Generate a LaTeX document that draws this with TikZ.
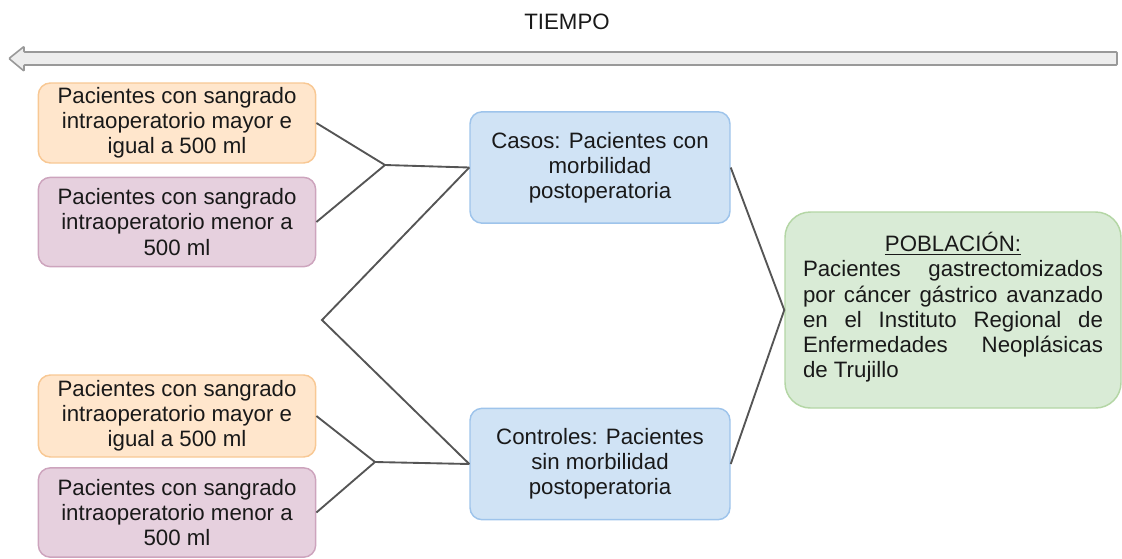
\documentclass[tikz,border=0pt]{standalone}
\usepackage{fontspec}
\setmainfont{Liberation Sans}
\usepackage{tikz}
\usetikzlibrary{positioning, calc}

\definecolor{naranjaF}{HTML}{FFE6CC}
\definecolor{naranjaB}{HTML}{F8C894}
\definecolor{rosaF}{HTML}{E6D0DE}
\definecolor{rosaB}{HTML}{CDA4BD}
\definecolor{azulF}{HTML}{D0E3F5}
\definecolor{azulB}{HTML}{9EC4EB}
\definecolor{verdeF}{HTML}{D9EBD6}
\definecolor{verdeB}{HTML}{B4D6A5}
\definecolor{linea}{HTML}{555555}

\begin{document}
\begin{tikzpicture}[x=0.75pt, y=-0.75pt,
    every node/.style={font=\fontsize{16.7}{18.9}\selectfont, text=black!90},
    caja/.style={rounded corners=9pt, line width=1.1pt, inner sep=0pt, align=center},
    mayor/.style={caja, fill=naranjaF, draw=naranjaB, minimum width=208pt},
    menor/.style={caja, fill=rosaF, draw=rosaB, minimum width=208pt, minimum height=67pt},
    grupo/.style={caja, fill=azulF, draw=azulB, minimum width=195pt, minimum height=83.5pt},
    conector/.style={draw=linea, line width=1.4pt}
]
\useasboundingbox (0,0) rectangle (1122,558);

% flecha del tiempo
\node (tiempo) at (567,22) {TIEMPO};
\draw[fill=black!7, draw=black!40, line width=1.2pt, rounded corners=0.6pt]
    (1117,52) -- (24,52) -- (24,46.5) -- (9,58.5) -- (24,71) -- (24,65) -- (1117,65) -- cycle;

% grupos de exposicion
\node[mayor, minimum height=60pt] (may1) at (177,123) {Pacientes con sangrado\\intraoperatorio mayor e\\igual a 500 ml};
\node[menor] (men1) at (177,222) {Pacientes con sangrado\\intraoperatorio menor a\\500 ml};
\node[mayor, minimum height=61.5pt] (may2) at (177,416) {Pacientes con sangrado\\intraoperatorio mayor e\\igual a 500 ml};
\node[menor] (men2) at (177,512.5) {Pacientes con sangrado\\intraoperatorio menor a\\500 ml};

% casos y controles
\node[grupo] (casos) at (600,167.5) {Casos: Pacientes con\\morbilidad\\postoperatoria};
\node[grupo] (controles) at (600,464) {Controles: Pacientes\\sin morbilidad\\postoperatoria};

% poblacion
\node[caja, rounded corners=19pt, fill=verdeF, draw=verdeB, minimum width=252pt, minimum height=147pt,
      text width=225pt, align=justify] (poblacion) at (953,310)
    {\hspace*{\fill}\underline{POBLACIÓN:}\hspace*{\fill}\linebreak
     Pacientes gastrectomizados\linebreak
     por cáncer gástrico avanzado\linebreak
     en el Instituto Regional de\linebreak
     Enfermedades Neoplásicas\linebreak
     de Trujillo\par\vspace*{4pt}};

% uniones
\coordinate (u1) at (385,165);
\coordinate (u2) at (322,320);
\coordinate (u3) at (375,462);

\draw[conector] (may1.east) -- (u1) -- (men1.east);
\draw[conector] (u1) -- (casos.west);
\draw[conector] (casos.west) -- (u2) -- (controles.west);
\draw[conector] (may2.east) -- (u3) -- (men2.east);
\draw[conector] (u3) -- (controles.west);
\draw[conector] (casos.east) -- (poblacion.west) -- (controles.east);
\end{tikzpicture}
\end{document}
